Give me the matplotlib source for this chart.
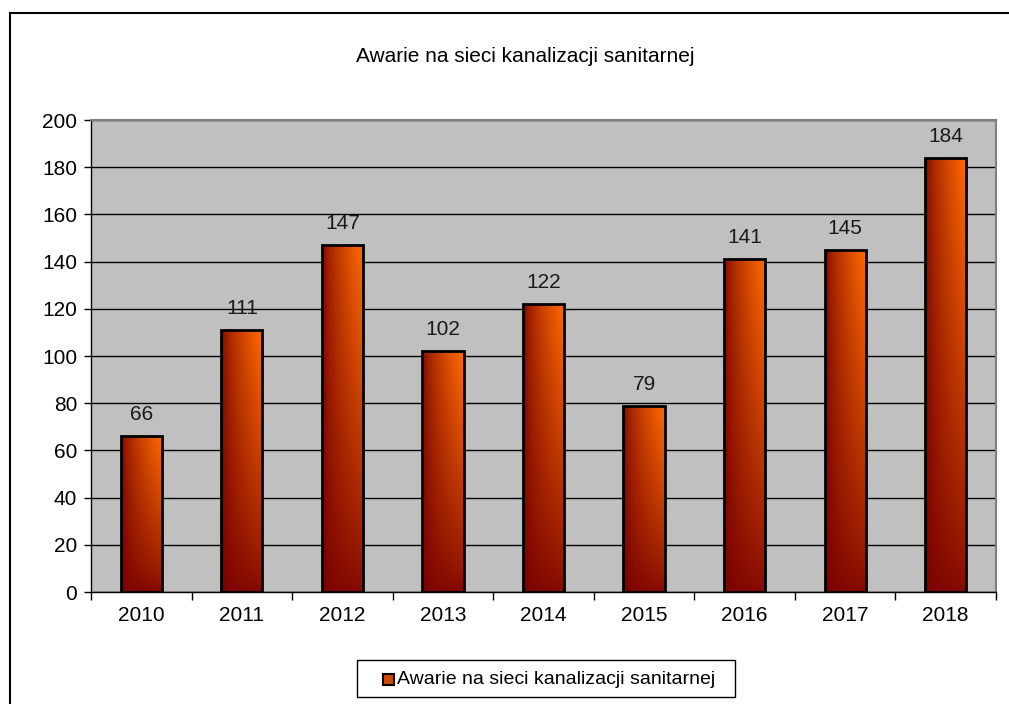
import numpy as np
import matplotlib.pyplot as plt
from matplotlib.colors import LinearSegmentedColormap
from matplotlib.patches import Rectangle
from matplotlib.lines import Line2D

years = ['2010', '2011', '2012', '2013', '2014', '2015', '2016', '2017', '2018']
values = [66, 111, 147, 102, 122, 79, 141, 145, 184]
title = 'Awarie na sieci kanalizacji sanitarnej'

plt.rcParams['font.family'] = ['Liberation Sans', 'DejaVu Sans']

W, H = 1009, 704
fig = plt.figure(figsize=(W / 100, H / 100), dpi=100)
ax = fig.add_axes([91 / W, 1 - 592 / H, (996 - 91) / W, (592 - 120) / H])
ax.set_facecolor('#c0c0c0')

cmap = LinearSegmentedColormap.from_list('bar', ['#780000', '#b83400', '#ff6a00'])

# gradient: dark at left/bottom, orange at top right
gx = np.linspace(0, 1, 60)
gy = np.linspace(0, 1, 120)
X, Y = np.meshgrid(gx, gy)
grad = np.clip(X ** 0.6, 0, 1) * (0.1 + 0.9 * Y ** 0.8)

width = 0.41
x = np.arange(len(years))
bars = ax.bar(x, values, width=width, color='none', edgecolor='black',
              linewidth=2, zorder=3)
for b in bars:
    x0, w, h = b.get_x(), b.get_width(), b.get_height()
    im = ax.imshow(grad, cmap=cmap, vmin=0, vmax=1, origin='lower',
                   extent=[x0, x0 + w, 0, h], aspect='auto', zorder=2,
                   interpolation='bilinear')
    im.set_clip_path(b)

for xi, v in zip(x, values):
    ax.text(xi, v + 5, str(v), ha='center', va='bottom', fontsize=15,
            color='#1a1a1a', zorder=4)

ax.set_xlim(-0.5, len(years) - 0.5)
ax.set_ylim(0, 200)
ax.set_yticks(range(0, 201, 20))
ax.yaxis.grid(True, color='black', linewidth=1)
ax.set_axisbelow(True)

ax.set_xticks(x)
ax.set_xticklabels(years, fontsize=15)
ax.set_xticks(np.arange(-0.5, len(years)), minor=True)
ax.tick_params(axis='x', which='major', length=0, pad=10)
ax.tick_params(axis='x', which='minor', length=6, width=1, color='black')
ax.tick_params(axis='y', length=5, width=1, labelsize=15, pad=5)

for s in ['top', 'right']:
    ax.spines[s].set_color('#808080')
    ax.spines[s].set_linewidth(1.5)
for s in ['left', 'bottom']:
    ax.spines[s].set_color('black')
    ax.spines[s].set_linewidth(1)

fig.text(525 / W, 1 - 57 / H, title, ha='center', va='center', fontsize=15)

# outer frame (top and left lines only visible)
fig.add_artist(Line2D([9.5 / W, 9.5 / W], [0, 1 - 13 / H], color='black', lw=1.5,
                      transform=fig.transFigure))
fig.add_artist(Line2D([9.5 / W, 1], [1 - 13 / H, 1 - 13 / H], color='black', lw=1.5,
                      transform=fig.transFigure))

# legend box
fig.add_artist(Rectangle((357 / W, 1 - 697 / H), (735 - 357) / W, (697 - 660) / H,
                         transform=fig.transFigure, facecolor='white',
                         edgecolor='black', lw=1))
fig.add_artist(Rectangle((383 / W, 1 - 685 / H), 11 / W, 11 / H,
                         transform=fig.transFigure, facecolor='#d04a00',
                         edgecolor='black', lw=1.5))
fig.text(397 / W, 1 - 679 / H, title, ha='left', va='center', fontsize=14)

fig.savefig('out.png', dpi=100)
